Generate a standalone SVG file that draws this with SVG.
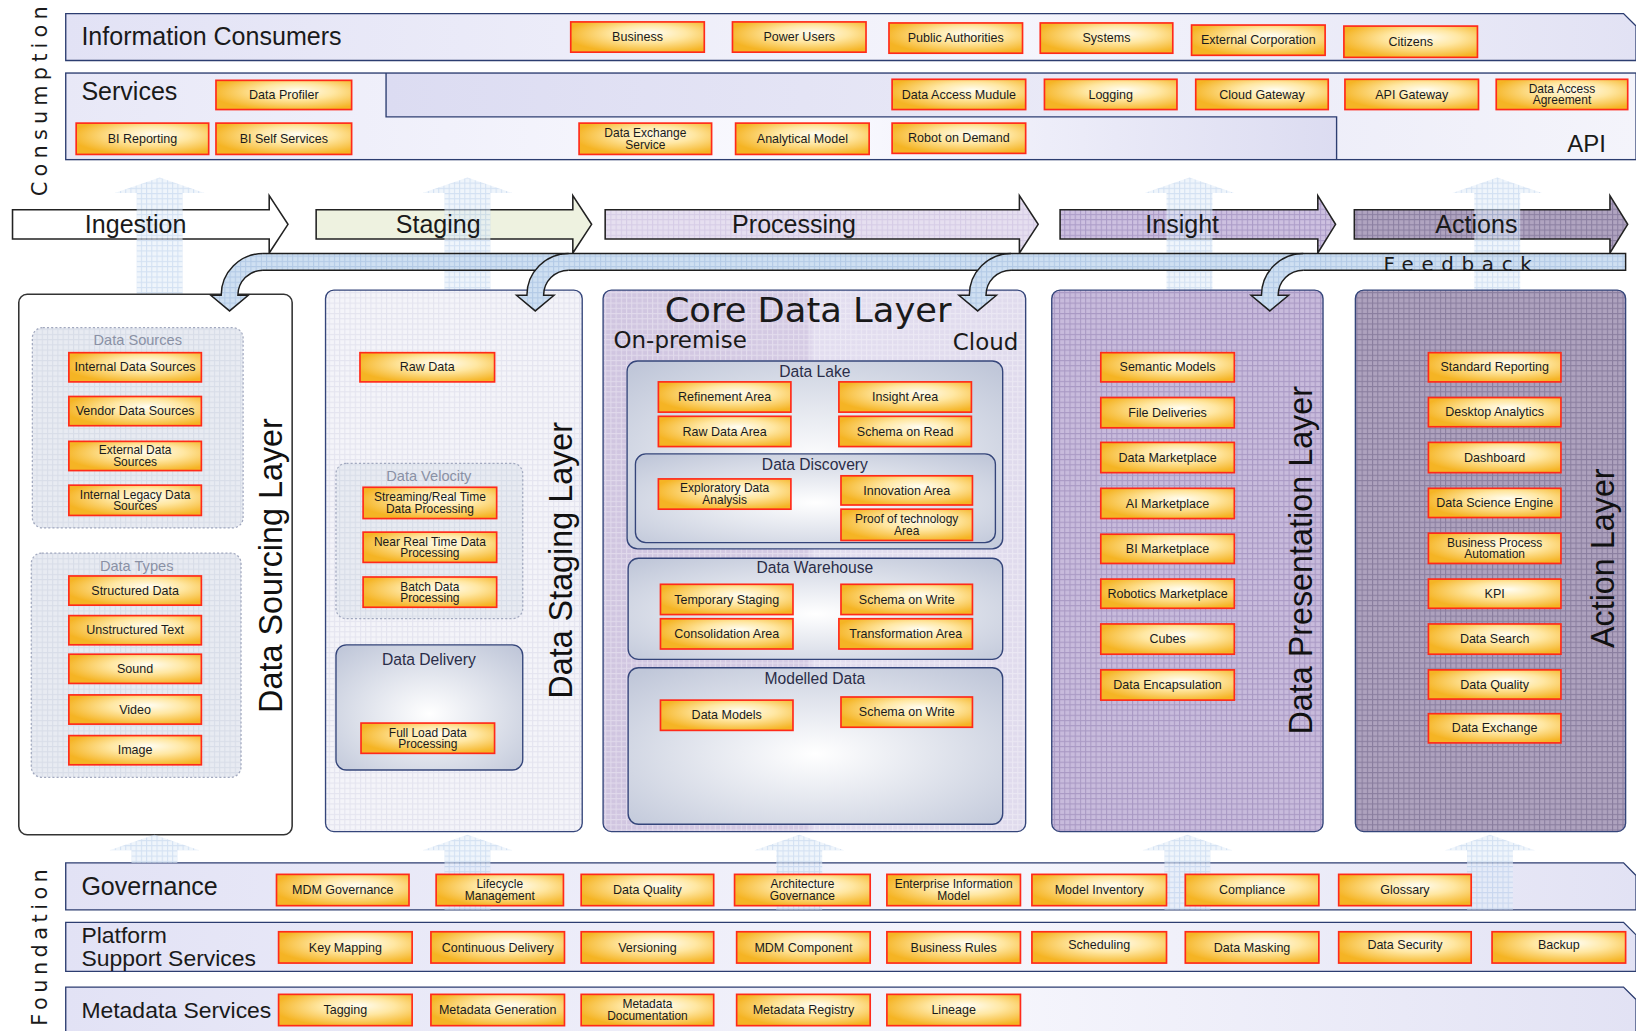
<svg xmlns="http://www.w3.org/2000/svg" width="1636" height="1031" viewBox="0 0 1636 1031">
<defs>
<radialGradient id="boxG" cx="0.58" cy="0.42" r="0.62" fx="0.6" fy="0.35"><stop offset="0" stop-color="#fffdf2"/><stop offset="0.45" stop-color="#ffe7a2"/><stop offset="1" stop-color="#f5b424"/></radialGradient>
<radialGradient id="contG" cx="0.5" cy="0.55" r="0.7"><stop offset="0" stop-color="#ffffff"/><stop offset="1" stop-color="#c0c7d9"/></radialGradient>
<linearGradient id="coreG" x1="0" y1="0" x2="1" y2="0"><stop offset="0" stop-color="#d0c5e0"/><stop offset="0.48" stop-color="#d5cbe4"/><stop offset="0.5" stop-color="#e3def0"/><stop offset="1" stop-color="#e0dbed"/></linearGradient>
<linearGradient id="barG" x1="0" y1="0" x2="1" y2="0"><stop offset="0" stop-color="#e2e2f5"/><stop offset="0.6" stop-color="#f5f5fc"/><stop offset="1" stop-color="#e2e2f4"/></linearGradient>
<linearGradient id="apiG" x1="0" y1="0" x2="1" y2="0"><stop offset="0" stop-color="#dcdcf2"/><stop offset="1" stop-color="#f4f4fb"/></linearGradient>
<linearGradient id="botG" x1="0" y1="0" x2="1" y2="0"><stop offset="0" stop-color="#e8e8f7"/><stop offset="0.6" stop-color="#fafaff"/><stop offset="1" stop-color="#dcdcf1"/></linearGradient>
<pattern id="pStage" width="5" height="5" patternUnits="userSpaceOnUse"><rect width="5" height="5" fill="#f4f4f9"/><path d="M0 .5H5M.5 0V5" stroke="#e4e4ef" stroke-width="1"/></pattern>
<pattern id="pPres" width="5" height="5" patternUnits="userSpaceOnUse"><rect width="5" height="5" fill="#c8bbdc"/><path d="M0 .5H5M.5 0V5" stroke="#a999c4" stroke-width="1"/></pattern>
<pattern id="pAct" width="5" height="5" patternUnits="userSpaceOnUse"><rect width="5" height="5" fill="#aea2be"/><path d="M0 .5H5M.5 0V5" stroke="#8a7e9f" stroke-width="1"/></pattern>
<pattern id="pIns" width="5" height="5" patternUnits="userSpaceOnUse"><rect width="5" height="5" fill="#cdc0e0"/><path d="M0 .5H5M.5 0V5" stroke="#ac9cc8" stroke-width="1"/></pattern>
<pattern id="pActA" width="5" height="5" patternUnits="userSpaceOnUse"><rect width="5" height="5" fill="#b0a4c0"/><path d="M0 .5H5M.5 0V5" stroke="#8c80a2" stroke-width="1"/></pattern>
<pattern id="pProc" width="5" height="5" patternUnits="userSpaceOnUse"><rect width="5" height="5" fill="#e6dff0"/><path d="M0 .5H5M.5 0V5" stroke="#d6cce6" stroke-width="1"/></pattern>
<pattern id="pBlue" width="5" height="5" patternUnits="userSpaceOnUse"><rect width="5" height="5" fill="#e4eef9"/><path d="M0 .5H5M.5 0V5" stroke="#b6cdea" stroke-width="1"/></pattern>
<pattern id="pFb" width="5" height="5" patternUnits="userSpaceOnUse"><rect width="5" height="5" fill="#cfe0f2"/><path d="M0 .5H5M.5 0V5" stroke="#b3cae6" stroke-width="1"/></pattern>
<pattern id="pSrc" width="5" height="5" patternUnits="userSpaceOnUse"><rect width="5" height="5" fill="#e8ebf2"/><path d="M0 .5H5M.5 0V5" stroke="#d8dde8" stroke-width="1"/></pattern>
<pattern id="pOver" width="5" height="5" patternUnits="userSpaceOnUse"><path d="M0 .5H5M.5 0V5" stroke="#ffffff" stroke-opacity="0.35" stroke-width="1" fill="none"/></pattern>
<style>
.box{fill:url(#boxG);stroke:#ff2a1a;stroke-width:1.6}
.bt{font-family:"Liberation Sans",Arial,sans-serif;font-size:12px;fill:#1a1a1a;text-anchor:middle}
.bt2{font-family:"Liberation Sans",Arial,sans-serif;font-size:11.5px;fill:#1a1a1a;text-anchor:middle}
.bar{stroke:#2c3d70;stroke-width:1.3}
.lbl{font-family:"Liberation Sans",Arial,sans-serif;fill:#1a1a1a}
.stage{font-family:"Liberation Sans",Arial,sans-serif;font-size:24px;fill:#1a1a1a;text-anchor:middle}
.layer{stroke:#34457a;stroke-width:1.3}
.vt{font-family:"Liberation Sans",Arial,sans-serif;font-size:31px;fill:#111;text-anchor:middle}
.grp{fill:url(#pSrc);stroke:#a2a9bf;stroke-width:1.2;stroke-dasharray:2 2}
.gt{font-family:"Liberation Sans",Arial,sans-serif;font-size:14px;fill:#8a91a5;text-anchor:middle}
.cont{fill:url(#contG);stroke:#34457a;stroke-width:1.3}
.ct{font-family:"Liberation Sans",Arial,sans-serif;font-size:15px;fill:#2a2d48;text-anchor:middle}
.sa{stroke:#222;stroke-width:1.5}
.up{fill:url(#pBlue);opacity:0.6}
.fb{fill:url(#pFb)}
.fbs{fill:none;stroke:#1e1e1e;stroke-width:1.4}
.dj{font-family:"DejaVu Sans",Verdana,sans-serif;fill:#1a1a1a}
</style>
</defs>
<rect width="1636" height="1031" fill="#ffffff"/>
<g transform="scale(1.0434)">

<!-- Consumption section -->
<text class="dj" font-size="20" text-anchor="middle" textLength="182" lengthAdjust="spacing" transform="translate(45,97) rotate(-90)">Consumption</text>

<g id="bar-information-consumers">
<path class="bar" d="M63,13 H1556 L1568,25 V58 H63 Z" fill="url(#barG)"/>
<text class="lbl" x="78" y="43" font-size="24">Information Consumers</text>
</g>
<g id="bar-services">
<rect x="63" y="70" width="1505" height="83" fill="#f3f3fb"/>
<path d="M370,70 H1568 V153 H1281 V112 H370 Z" fill="url(#apiG)"/>
<path d="M63,70 H370 V112 H1281 V153 H63 Z" fill="url(#botG)"/>
<rect class="bar" x="63" y="70" width="1505" height="83" fill="none"/>
<path class="bar" d="M370,70 V112 H1281 V153" fill="none"/>
<text class="lbl" x="78" y="96" font-size="24">Services</text>
<text class="lbl" x="1502" y="146" font-size="23">API</text>
</g>

<g id="n-business"><rect class="box" x="547" y="21" width="128" height="29"/><text class="bt" x="611" y="39.5">Business</text></g>
<g id="n-power-users"><rect class="box" x="702" y="21" width="128" height="29"/><text class="bt" x="766" y="39.5">Power Users</text></g>
<g id="n-public-authorities"><rect class="box" x="852" y="22" width="128" height="29"/><text class="bt" x="916" y="40.5">Public Authorities</text></g>
<g id="n-systems"><rect class="box" x="997" y="22" width="127" height="29"/><text class="bt" x="1060.5" y="40.5">Systems</text></g>
<g id="n-external-corporation"><rect class="box" x="1142" y="24" width="128" height="29"/><text class="bt" x="1206" y="42.5">External Corporation</text></g>
<g id="n-citizens"><rect class="box" x="1288" y="25" width="128" height="30"/><text class="bt" x="1352" y="44">Citizens</text></g>

<g id="n-data-profiler"><rect class="box" x="207" y="77" width="130" height="28"/><text class="bt" x="272" y="95">Data Profiler</text></g>
<g id="n-data-access-module"><rect class="box" x="855" y="76" width="128" height="29"/><text class="bt" x="919" y="94.5">Data Access Mudule</text></g>
<g id="n-logging"><rect class="box" x="1001" y="76" width="127" height="29"/><text class="bt" x="1064.5" y="94.5">Logging</text></g>
<g id="n-cloud-gateway"><rect class="box" x="1146" y="76" width="127" height="29"/><text class="bt" x="1209.5" y="94.5">Cloud Gateway</text></g>
<g id="n-api-gateway"><rect class="box" x="1289" y="76" width="128" height="29"/><text class="bt" x="1353" y="94.5">API Gateway</text></g>
<g id="n-data-access-agreement"><rect class="box" x="1434" y="76" width="126" height="29"/><text class="bt2" x="1497" y="89">Data Access</text><text class="bt2" x="1497" y="100">Agreement</text></g>
<g id="n-bi-reporting"><rect class="box" x="73" y="118" width="127" height="30"/><text class="bt" x="136.5" y="137">BI Reporting</text></g>
<g id="n-bi-self-services"><rect class="box" x="207" y="118" width="130" height="30"/><text class="bt" x="272" y="137">BI Self Services</text></g>
<g id="n-data-exchange-service"><rect class="box" x="555" y="118" width="127" height="30"/><text class="bt2" x="618.5" y="131.5">Data Exchange</text><text class="bt2" x="618.5" y="142.5">Service</text></g>
<g id="n-analytical-model"><rect class="box" x="705" y="118" width="128" height="30"/><text class="bt" x="769" y="137">Analytical Model</text></g>
<g id="n-robot-on-demand"><rect class="box" x="855" y="118" width="128" height="29"/><text class="bt" x="919" y="136.5">Robot on Demand</text></g>

<!-- Stage arrows -->
<g id="connectors-stages">
<path class="sa" d="M12,201 H258 V187.5 L276,215 L258,242.5 V229 H12 Z" fill="#ffffff"/>
<path class="sa" d="M303,201 H549 V187.5 L567,215 L549,242.5 V229 H303 Z" fill="#eef2e0"/>
<path class="sa" d="M580,201 H977 V187.5 L995,215 L977,242.5 V229 H580 Z" fill="url(#pProc)"/>
<path class="sa" d="M1016,201 H1263 V187.5 L1280,215 L1263,242.5 V229 H1016 Z" fill="url(#pIns)"/>
<path class="sa" d="M1298,201 H1543 V187.5 L1560,215 L1543,242.5 V229 H1298 Z" fill="url(#pActA)"/>
</g>
<g id="connectors-up-top">
<path class="up" d="M131,282 V185 H110 L153,170 L196,185 H175 V282 Z"/>
<path class="up" d="M426,282 V185 H405 L448,170 L491,185 H470 V282 Z"/>
<path class="up" d="M1118,282 V185 H1097 L1140,170 L1183,185 H1162 V282 Z"/>
<path class="up" d="M1413,282 V185 H1392 L1435,170 L1478,185 H1457 V282 Z"/>
</g>
<text class="stage" x="130" y="223">Ingestion</text>
<text class="stage" x="420" y="223">Staging</text>
<text class="stage" x="761" y="223">Processing</text>
<text class="stage" x="1133" y="223">Insight</text>
<text class="stage" x="1415" y="223">Actions</text>

<!-- Layers -->
<g id="layer-data-sourcing">
<rect x="18" y="282" width="262" height="518" rx="8" fill="#ffffff" stroke="#333" stroke-width="1.5"/>
<text class="vt" transform="translate(270,542) rotate(-90)">Data Sourcing Layer</text>
</g>
<g id="grp-data-sources"><rect class="grp" x="31" y="314" width="202" height="192" rx="10"/><text class="gt" x="132" y="331">Data Sources</text></g>
<g id="grp-data-types"><rect class="grp" x="30" y="530" width="201" height="215" rx="10"/><text class="gt" x="131" y="547">Data Types</text></g>

<g id="layer-data-staging">
<rect class="layer" x="312" y="278" width="246" height="519" rx="8" fill="url(#pStage)"/>
<text class="vt" transform="translate(548,537) rotate(-90)">Data Staging Layer</text>
</g>
<g id="grp-data-velocity"><rect class="grp" x="322" y="444" width="179" height="149" rx="10" fill="#e2e4ec"/><text class="gt" x="411" y="461">Data Velocity</text></g>
<g id="grp-data-delivery"><rect class="cont" x="322" y="618" width="179" height="120" rx="10"/><text class="ct" x="411" y="637">Data Delivery</text></g>

<g id="layer-core-data">
<rect x="578" y="278" width="405" height="519" rx="8" fill="url(#coreG)"/>
<rect class="layer" x="578" y="278" width="405" height="519" rx="8" fill="url(#pOver)"/>
<text class="dj" x="637" y="309" font-size="32" textLength="275" lengthAdjust="spacingAndGlyphs">Core Data Layer</text>
<text class="dj" x="588" y="334" font-size="22">On-premise</text>
<text class="dj" x="976" y="335" font-size="22" text-anchor="end">Cloud</text>
</g>
<g id="grp-data-lake"><rect class="cont" x="601" y="346" width="360" height="180" rx="10"/><text class="ct" x="781" y="361">Data Lake</text></g>
<g id="grp-data-discovery"><rect class="cont" x="609" y="435" width="345" height="85" rx="10"/><text class="ct" x="781" y="450">Data Discovery</text></g>
<g id="grp-data-warehouse"><rect class="cont" x="602" y="535" width="359" height="97" rx="10"/><text class="ct" x="781" y="549">Data Warehouse</text></g>
<g id="grp-modelled-data"><rect class="cont" x="602" y="640" width="359" height="150" rx="10"/><text class="ct" x="781" y="656">Modelled Data</text></g>

<g id="layer-data-presentation">
<rect class="layer" x="1008" y="278" width="260" height="519" rx="8" fill="url(#pPres)"/>
<text class="vt" transform="translate(1257,537) rotate(-90)">Data Presentation Layer</text>
</g>
<g id="layer-action">
<rect class="layer" x="1299" y="278" width="259" height="519" rx="8" fill="url(#pAct)"/>
<text class="vt" transform="translate(1547,535) rotate(-90)">Action Layer</text>
</g>

<!-- Feedback -->
<g id="connectors-feedback">
<path class="fb" d="M252,243 H1558 V259 H252 Z"/>
<path class="fb" d="M252,243 A40,40 0 0 0 212,283 L202,283 L220,298 L238,283 L228,283 A24,24 0 0 1 252,259 Z"/>
<path class="fb" d="M545,243 A40,40 0 0 0 505,283 L495,283 L513,298 L531,283 L521,283 A24,24 0 0 1 545,259 Z"/>
<path class="fb" d="M969,243 A40,40 0 0 0 929,283 L919,283 L937,298 L955,283 L945,283 A24,24 0 0 1 969,259 Z"/>
<path class="fb" d="M1249,243 A40,40 0 0 0 1209,283 L1199,283 L1217,298 L1235,283 L1225,283 A24,24 0 0 1 1249,259 Z"/>
<path class="fbs" d="M252,243 H1558 V259 H1249 M1217,259 H969 M937,259 H545 M513,259 H252"/>
<path class="fbs" d="M252,243 A40,40 0 0 0 212,283 L202,283 L220,298 L238,283 L228,283 A24,24 0 0 1 252,259"/>
<path class="fbs" d="M545,243 A40,40 0 0 0 505,283 L495,283 L513,298 L531,283 L521,283 A24,24 0 0 1 545,259"/>
<path class="fbs" d="M969,243 A40,40 0 0 0 929,283 L919,283 L937,298 L955,283 L945,283 A24,24 0 0 1 969,259"/>
<path class="fbs" d="M1249,243 A40,40 0 0 0 1209,283 L1199,283 L1217,298 L1235,283 L1225,283 A24,24 0 0 1 1249,259"/>
<text class="dj" x="1326" y="260" font-size="19" textLength="142" lengthAdjust="spacing">Feedback</text>
</g>

<!-- Sourcing boxes -->
<g id="n-internal-data-sources"><rect class="box" x="66" y="338" width="127" height="28"/><text class="bt" x="129.5" y="356">Internal Data Sources</text></g>
<g id="n-vendor-data-sources"><rect class="box" x="66" y="380" width="127" height="28"/><text class="bt" x="129.5" y="398">Vendor Data Sources</text></g>
<g id="n-external-data-sources"><rect class="box" x="66" y="423" width="127" height="28"/><text class="bt2" x="129.5" y="435.5">External Data</text><text class="bt2" x="129.5" y="446.5">Sources</text></g>
<g id="n-internal-legacy"><rect class="box" x="66" y="465" width="127" height="29"/><text class="bt2" x="129.5" y="478">Internal Legacy Data</text><text class="bt2" x="129.5" y="489">Sources</text></g>
<g id="n-structured-data"><rect class="box" x="66" y="552" width="127" height="28"/><text class="bt" x="129.5" y="570">Structured Data</text></g>
<g id="n-unstructured-text"><rect class="box" x="66" y="590" width="127" height="28"/><text class="bt" x="129.5" y="608">Unstructured Text</text></g>
<g id="n-sound"><rect class="box" x="66" y="627" width="127" height="28"/><text class="bt" x="129.5" y="645">Sound</text></g>
<g id="n-video"><rect class="box" x="66" y="666" width="127" height="28"/><text class="bt" x="129.5" y="684">Video</text></g>
<g id="n-image"><rect class="box" x="66" y="705" width="127" height="28"/><text class="bt" x="129.5" y="723">Image</text></g>

<!-- Staging boxes -->
<g id="n-raw-data"><rect class="box" x="345" y="338" width="129" height="28"/><text class="bt" x="409.5" y="356">Raw Data</text></g>
<g id="n-streaming"><rect class="box" x="348" y="467" width="128" height="30"/><text class="bt2" x="412" y="480.5">Streaming/Real Time</text><text class="bt2" x="412" y="491.5">Data Processing</text></g>
<g id="n-near-real-time"><rect class="box" x="348" y="510" width="128" height="29"/><text class="bt2" x="412" y="523">Near Real Time Data</text><text class="bt2" x="412" y="534">Processing</text></g>
<g id="n-batch"><rect class="box" x="348" y="553" width="128" height="29"/><text class="bt2" x="412" y="566">Batch Data</text><text class="bt2" x="412" y="577">Processing</text></g>
<g id="n-full-load"><rect class="box" x="346" y="693" width="128" height="29"/><text class="bt2" x="410" y="706">Full Load Data</text><text class="bt2" x="410" y="717">Processing</text></g>

<!-- Core boxes -->
<g id="n-refinement-area"><rect class="box" x="631" y="366" width="127" height="29"/><text class="bt" x="694.5" y="384.5">Refinement Area</text></g>
<g id="n-insight-area"><rect class="box" x="804" y="366" width="127" height="29"/><text class="bt" x="867.5" y="384.5">Insight Area</text></g>
<g id="n-raw-data-area"><rect class="box" x="631" y="399" width="127" height="29"/><text class="bt" x="694.5" y="417.5">Raw Data Area</text></g>
<g id="n-schema-on-read"><rect class="box" x="804" y="399" width="127" height="29"/><text class="bt" x="867.5" y="417.5">Schema on Read</text></g>
<g id="n-exploratory"><rect class="box" x="631" y="459" width="127" height="29"/><text class="bt2" x="694.5" y="472">Exploratory Data</text><text class="bt2" x="694.5" y="483">Analysis</text></g>
<g id="n-innovation-area"><rect class="box" x="806" y="456" width="126" height="28"/><text class="bt" x="869" y="474">Innovation Area</text></g>
<g id="n-proof-of-technology"><rect class="box" x="806" y="488" width="126" height="30"/><text class="bt2" x="869" y="501.5">Proof of technology</text><text class="bt2" x="869" y="512.5">Area</text></g>
<g id="n-temporary-staging"><rect class="box" x="633" y="560" width="127" height="29"/><text class="bt" x="696.5" y="578.5">Temporary Staging</text></g>
<g id="n-schema-on-write-dw"><rect class="box" x="806" y="560" width="126" height="29"/><text class="bt" x="869" y="578.5">Schema on Write</text></g>
<g id="n-consolidation-area"><rect class="box" x="633" y="593" width="127" height="29"/><text class="bt" x="696.5" y="611.5">Consolidation Area</text></g>
<g id="n-transformation-area"><rect class="box" x="804" y="593" width="128" height="29"/><text class="bt" x="868" y="611.5">Transformation Area</text></g>
<g id="n-data-models"><rect class="box" x="633" y="671" width="127" height="29"/><text class="bt" x="696.5" y="689.5">Data Models</text></g>
<g id="n-schema-on-write-md"><rect class="box" x="806" y="668" width="126" height="29"/><text class="bt" x="869" y="686.5">Schema on Write</text></g>

<!-- Presentation boxes -->
<g id="n-semantic-models"><rect class="box" x="1055" y="338" width="128" height="28"/><text class="bt" x="1119" y="356">Semantic Models</text></g>
<g id="n-file-deliveries"><rect class="box" x="1055" y="381" width="128" height="29"/><text class="bt" x="1119" y="399.5">File Deliveries</text></g>
<g id="n-data-marketplace"><rect class="box" x="1055" y="424" width="128" height="29"/><text class="bt" x="1119" y="442.5">Data Marketplace</text></g>
<g id="n-ai-marketplace"><rect class="box" x="1055" y="468" width="128" height="29"/><text class="bt" x="1119" y="486.5">AI Marketplace</text></g>
<g id="n-bi-marketplace"><rect class="box" x="1055" y="512" width="128" height="28"/><text class="bt" x="1119" y="530">BI Marketplace</text></g>
<g id="n-robotics-marketplace"><rect class="box" x="1055" y="555" width="128" height="28"/><text class="bt" x="1119" y="573">Robotics Marketplace</text></g>
<g id="n-cubes"><rect class="box" x="1055" y="598" width="128" height="29"/><text class="bt" x="1119" y="616.5">Cubes</text></g>
<g id="n-data-encapsulation"><rect class="box" x="1055" y="642" width="128" height="29"/><text class="bt" x="1119" y="660.5">Data Encapsulation</text></g>

<!-- Action boxes -->
<g id="n-standard-reporting"><rect class="box" x="1369" y="338" width="127" height="28"/><text class="bt" x="1432.5" y="356">Standard Reporting</text></g>
<g id="n-desktop-analytics"><rect class="box" x="1369" y="381" width="127" height="28"/><text class="bt" x="1432.5" y="399">Desktop Analytics</text></g>
<g id="n-dashboard"><rect class="box" x="1369" y="424" width="127" height="29"/><text class="bt" x="1432.5" y="442.5">Dashboard</text></g>
<g id="n-data-science-engine"><rect class="box" x="1369" y="468" width="127" height="28"/><text class="bt" x="1432.5" y="486">Data Science Engine</text></g>
<g id="n-bpa"><rect class="box" x="1369" y="511" width="127" height="29"/><text class="bt2" x="1432.5" y="524">Business Process</text><text class="bt2" x="1432.5" y="535">Automation</text></g>
<g id="n-kpi"><rect class="box" x="1369" y="555" width="127" height="28"/><text class="bt" x="1432.5" y="573">KPI</text></g>
<g id="n-data-search"><rect class="box" x="1369" y="598" width="127" height="29"/><text class="bt" x="1432.5" y="616.5">Data Search</text></g>
<g id="n-data-quality-action"><rect class="box" x="1369" y="642" width="127" height="28"/><text class="bt" x="1432.5" y="660">Data Quality</text></g>
<g id="n-data-exchange"><rect class="box" x="1369" y="684" width="127" height="28"/><text class="bt" x="1432.5" y="702">Data Exchange</text></g>

<!-- Foundation -->
<text class="dj" font-size="20" text-anchor="middle" textLength="150" lengthAdjust="spacing" transform="translate(45,908) rotate(-90)">Foundation</text>
<g id="bar-governance">
<path class="bar" d="M63,827 H1556 L1568,839 V872 H63 Z" fill="url(#barG)"/>
</g>
<g id="bar-platform">
<path class="bar" d="M63,884 H1556 L1568,896 V931 H63 Z" fill="url(#barG)"/>
<text class="lbl" x="78" y="904" font-size="22">Platform</text>
<text class="lbl" x="78" y="926" font-size="22">Support Services</text>
</g>
<g id="bar-metadata">
<path class="bar" d="M63,946 H1556 L1568,958 V1000 H63 Z" fill="url(#barG)"/>
<text class="lbl" x="78" y="976" font-size="22">Metadata Services</text>
</g>
<g id="connectors-up-bottom">
<path class="up" d="M126,827 V815 H105 L148,800 L191,815 H170 V827 Z"/>
<path class="up" d="M426,872 V815 H405 L448,800 L491,815 H470 V872 Z"/>
<path class="up" d="M744,872 V815 H723 L766,800 L809,815 H788 V872 Z"/>
<path class="up" d="M1116,872 V815 H1095 L1138,800 L1181,815 H1160 V872 Z"/>
<path class="up" d="M1406,872 V815 H1385 L1428,800 L1471,815 H1450 V872 Z"/>
</g>
<text class="lbl" x="78" y="858" font-size="24">Governance</text>

<g id="n-mdm-governance"><rect class="box" x="265" y="838" width="127" height="30"/><text class="bt" x="328.5" y="857">MDM Governance</text></g>
<g id="n-lifecycle"><rect class="box" x="418" y="838" width="122" height="30"/><text class="bt2" x="479" y="851.5">Lifecycle</text><text class="bt2" x="479" y="862.5">Management</text></g>
<g id="n-data-quality-gov"><rect class="box" x="557" y="838" width="127" height="30"/><text class="bt" x="620.5" y="857">Data Quality</text></g>
<g id="n-architecture-governance"><rect class="box" x="704" y="838" width="130" height="30"/><text class="bt2" x="769" y="851.5">Architecture</text><text class="bt2" x="769" y="862.5">Governance</text></g>
<g id="n-enterprise-info-model"><rect class="box" x="850" y="838" width="128" height="30"/><text class="bt2" x="914" y="851.5">Enterprise Information</text><text class="bt2" x="914" y="862.5">Model</text></g>
<g id="n-model-inventory"><rect class="box" x="989" y="838" width="129" height="30"/><text class="bt" x="1053.5" y="857">Model Inventory</text></g>
<g id="n-compliance"><rect class="box" x="1136" y="838" width="128" height="30"/><text class="bt" x="1200" y="857">Compliance</text></g>
<g id="n-glossary"><rect class="box" x="1283" y="838" width="127" height="30"/><text class="bt" x="1346.5" y="857">Glossary</text></g>

<g id="n-key-mapping"><rect class="box" x="267" y="893" width="128" height="30"/><text class="bt" x="331" y="912">Key Mapping</text></g>
<g id="n-continuous-delivery"><rect class="box" x="413" y="893" width="128" height="30"/><text class="bt" x="477" y="912">Continuous Delivery</text></g>
<g id="n-versioning"><rect class="box" x="557" y="893" width="127" height="30"/><text class="bt" x="620.5" y="912">Versioning</text></g>
<g id="n-mdm-component"><rect class="box" x="706" y="893" width="128" height="30"/><text class="bt" x="770" y="912">MDM Component</text></g>
<g id="n-business-rules"><rect class="box" x="850" y="893" width="128" height="30"/><text class="bt" x="914" y="912">Business Rules</text></g>
<g id="n-scheduling"><rect class="box" x="989" y="893" width="129" height="30"/><text class="bt" x="1053.5" y="910">Scheduling</text></g>
<g id="n-data-masking"><rect class="box" x="1136" y="893" width="128" height="30"/><text class="bt" x="1200" y="912">Data Masking</text></g>
<g id="n-data-security"><rect class="box" x="1283" y="893" width="127" height="30"/><text class="bt" x="1346.5" y="910">Data Security</text></g>
<g id="n-backup"><rect class="box" x="1430" y="893" width="128" height="30"/><text class="bt" x="1494" y="910">Backup</text></g>

<g id="n-tagging"><rect class="box" x="267" y="953" width="128" height="30"/><text class="bt" x="331" y="972">Tagging</text></g>
<g id="n-metadata-generation"><rect class="box" x="413" y="953" width="128" height="30"/><text class="bt" x="477" y="972">Metadata Generation</text></g>
<g id="n-metadata-documentation"><rect class="box" x="557" y="953" width="127" height="30"/><text class="bt2" x="620.5" y="966.5">Metadata</text><text class="bt2" x="620.5" y="977.5">Documentation</text></g>
<g id="n-metadata-registry"><rect class="box" x="706" y="953" width="128" height="30"/><text class="bt" x="770" y="972">Metadata Registry</text></g>
<g id="n-lineage"><rect class="box" x="850" y="953" width="128" height="30"/><text class="bt" x="914" y="972">Lineage</text></g>

</g>
</svg>
